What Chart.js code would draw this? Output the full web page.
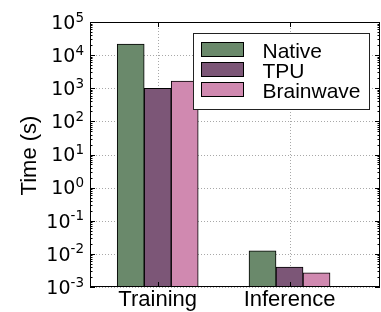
<!DOCTYPE html>
<html>
<head>
<meta charset="utf-8">
<script src="https://cdn.jsdelivr.net/npm/chart.js@4/dist/chart.umd.min.js"></script>
<style>
html,body{margin:0;padding:0;background:#fff;}
canvas{display:block;}
</style>
</head>
<body>
<canvas id="c" width="381" height="312"></canvas>
<script>
// ---- data ----
const categories = ['Training', 'Inference'];
const seriesNames = ['Native', 'TPU', 'Brainwave'];
const nativeTimes = [21600, 0.0123];
const tpuTimes = [1000, 0.0040];
const brainwaveTimes = [1640, 0.0027];
const yTickExponents = [-3, -2, -1, 0, 1, 2, 3, 4, 5];
const yLabel = 'Time (s)';

const colors = ['#6a896b', '#7c5677', '#d089b0'];
const TEXT_FONT = '"Liberation Sans", Arial, sans-serif';
const TICK_FONT = '"DejaVu Sans", sans-serif';

function toPoints(arr) { return arr.map((v, i) => ({ x: i, y: v })); }

const decorPlugin = {
  id: 'decor',
  beforeDatasetsDraw(chart) {
    const ctx = chart.ctx, a = chart.chartArea;
    const ys = chart.scales.y, xs = chart.scales.x;
    ctx.save();
    ctx.strokeStyle = '#a8a8a8';
    ctx.lineWidth = 1;
    ctx.setLineDash([1, 2]);
    yTickExponents.forEach(e => {
      const py = Math.round(ys.getPixelForValue(Math.pow(10, e))) + 0.5;
      ctx.beginPath(); ctx.moveTo(a.left, py); ctx.lineTo(a.right, py); ctx.stroke();
    });
    categories.forEach((c, i) => {
      const px = Math.round(xs.getPixelForValue(i)) + 0.5;
      ctx.beginPath(); ctx.moveTo(px, a.top); ctx.lineTo(px, a.bottom); ctx.stroke();
    });
    ctx.restore();
  },
  afterDraw(chart) {
    const ctx = chart.ctx, a = chart.chartArea;
    const ys = chart.scales.y, xs = chart.scales.x;
    ctx.save();
    // frame
    ctx.strokeStyle = '#000';
    ctx.lineWidth = 1;
    ctx.setLineDash([]);
    ctx.strokeRect(a.left + 0.5, a.top + 0.5, a.right - a.left - 1, a.bottom - a.top - 1);
    // y ticks major + minor
    ctx.beginPath();
    yTickExponents.forEach((e, k) => {
      const py = Math.round(ys.getPixelForValue(Math.pow(10, e))) + 0.5;
      ctx.moveTo(a.left, py); ctx.lineTo(a.left + 5, py);
      ctx.moveTo(a.right, py); ctx.lineTo(a.right - 5, py);
      if (k < yTickExponents.length - 1) {
        for (let m = 2; m <= 9; m++) {
          const pm = Math.round(ys.getPixelForValue(m * Math.pow(10, e))) + 0.5;
          ctx.moveTo(a.left, pm); ctx.lineTo(a.left + 2.5, pm);
          ctx.moveTo(a.right, pm); ctx.lineTo(a.right - 2.5, pm);
        }
      }
    });
    categories.forEach((c, i) => {
      const px = Math.round(xs.getPixelForValue(i)) + 0.5;
      ctx.moveTo(px, a.top); ctx.lineTo(px, a.top + 5);
      ctx.moveTo(px, a.bottom); ctx.lineTo(px, a.bottom - 5);
    });
    ctx.stroke();
    // y tick labels
    ctx.fillStyle = '#000';
    ctx.textBaseline = 'alphabetic';
    ctx.textAlign = 'left';
    yTickExponents.forEach(e => {
      const py = ys.getPixelForValue(Math.pow(10, e));
      const base = '10', exp = String(e);
      ctx.font = '19px ' + TICK_FONT;
      const wb = ctx.measureText(base).width;
      ctx.font = '13.5px ' + TICK_FONT;
      const we = ctx.measureText(exp).width;
      const x0 = 84 - wb - we;
      ctx.font = '19px ' + TICK_FONT;
      ctx.fillText(base, x0, py + 6.8);
      ctx.font = '13.5px ' + TICK_FONT;
      ctx.fillText(exp, x0 + wb, py - 0.5);
    });
    // x labels
    ctx.font = '22px ' + TEXT_FONT;
    ctx.textAlign = 'center';
    categories.forEach((c, i) => {
      ctx.fillText(c, xs.getPixelForValue(i), 306);
    });
    // y title
    ctx.save();
    ctx.translate(36, 155.5);
    ctx.rotate(-Math.PI / 2);
    ctx.textAlign = 'center';
    ctx.fillText(yLabel, 0, 0);
    ctx.restore();
    // legend
    ctx.fillStyle = '#fff';
    ctx.fillRect(193, 33, 177, 77);
    ctx.strokeStyle = '#222';
    ctx.strokeRect(193.5, 33.5, 176, 76);
    ctx.font = '21px ' + TEXT_FONT;
    ctx.textAlign = 'left';
    chart.data.datasets.forEach((ds, i) => {
      const top = 42 + i * 20;
      ctx.fillStyle = ds.backgroundColor;
      ctx.fillRect(201, top, 43, 15);
      ctx.strokeStyle = '#000';
      ctx.strokeRect(201.5, top + 0.5, 42, 14);
      ctx.fillStyle = '#000';
      ctx.fillText(ds.label, 262.5, top + 15.5);
    });
    ctx.restore();
  }
};

new Chart(document.getElementById('c'), {
  type: 'bar',
  data: {
    datasets: [
      { label: seriesNames[0], data: toPoints(nativeTimes), backgroundColor: colors[0] },
      { label: seriesNames[1], data: toPoints(tpuTimes), backgroundColor: colors[1] },
      { label: seriesNames[2], data: toPoints(brainwaveTimes), backgroundColor: colors[2] }
    ]
  },
  options: {
    responsive: false,
    devicePixelRatio: 1,
    animation: false,
    layout: { padding: { left: 90, top: 22, right: 1, bottom: 25 } },
    datasets: { bar: { barThickness: 27, borderColor: '#000', borderWidth: 1 } },
    scales: {
      x: { type: 'linear', min: -0.5136, max: 1.6864, offset: false, display: false },
      y: { type: 'logarithmic', min: 1e-3, max: 1e5, display: false }
    },
    plugins: { legend: { display: false }, tooltip: { enabled: false } }
  },
  plugins: [decorPlugin]
});
</script>
</body>
</html>
